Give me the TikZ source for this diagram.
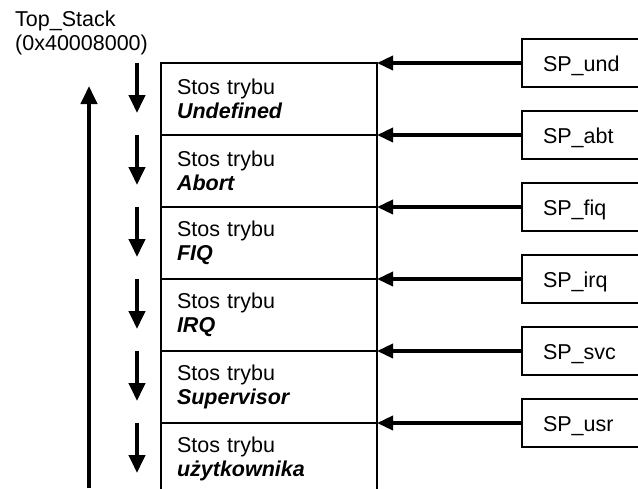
\documentclass[tikz,border=0pt]{standalone}
\usepackage{fontspec}
\setmainfont{Liberation Sans}
\usetikzlibrary{positioning,arrows.meta}

\begin{document}
\begin{tikzpicture}[
  x=1pt, y=-1pt,
  font=\fontsize{21.5}{24}\selectfont,
  rowstyle/.style={
        draw,
        rectangle,
        line width=2pt,
        outer sep=0pt,
        minimum width=216pt,
        minimum height=72pt,
        text width=184pt,
        inner xsep=16pt,
        inner ysep=0pt,
        align=left
  },
  spstyle/.style={
        draw,
        rectangle,
        line width=2pt,
        anchor=west,
        minimum height=48pt,
        text width=110pt,
        inner xsep=21pt,
        inner ysep=0pt,
        align=left,
        text height=16pt,
        text depth=0pt
  },
  pointer/.style={line width=3.5pt, -{Triangle[length=16pt, width=14pt]}},
  fall/.style={line width=4pt, -{Triangle[length=18pt, width=16pt]}}
]

    \useasboundingbox (0,0) rectangle (638,488);

    \node[align=left, anchor=north west, inner sep=0pt] (Top) at (15,11) {Top\_Stack\\(0x40008000)};

    \node[rowstyle] (R_1) at (269,99) {Stos trybu\\\textbf{\textit{Undefined}}};
    \node[rowstyle, below=0pt of R_1] (R_2) {Stos trybu\\\textbf{\textit{Abort}}};
    \node[rowstyle, below=0pt of R_2] (R_3) {Stos trybu\\\textbf{\textit{FIQ}}};
    \node[rowstyle, below=0pt of R_3] (R_4) {Stos trybu\\\textbf{\textit{IRQ}}};
    \node[rowstyle, below=0pt of R_4] (R_5) {Stos trybu\\\textbf{\textit{Supervisor}}};
    \node[rowstyle, below=0pt of R_5] (R_6) {Stos trybu\\\textbf{\textit{użytkownika}}};

    \node[spstyle] (SP_1) at ([xshift=144pt]R_1.north east) {SP\_und};
    \node[spstyle] (SP_2) at ([xshift=144pt]R_2.north east) {SP\_abt};
    \node[spstyle] (SP_3) at ([xshift=144pt]R_3.north east) {SP\_fiq};
    \node[spstyle] (SP_4) at ([xshift=144pt]R_4.north east) {SP\_irq};
    \node[spstyle] (SP_5) at ([xshift=144pt]R_5.north east) {SP\_svc};
    \node[spstyle] (SP_6) at ([xshift=144pt]R_6.north east) {SP\_usr};

    \draw[pointer] (SP_1.west) -- (R_1.north east);
    \draw[pointer] (SP_2.west) -- (R_2.north east);
    \draw[pointer] (SP_3.west) -- (R_3.north east);
    \draw[pointer] (SP_4.west) -- (R_4.north east);
    \draw[pointer] (SP_5.west) -- (R_5.north east);
    \draw[pointer] (SP_6.west) -- (R_6.north east);

    \draw[fall] ([xshift=-24pt]R_1.north west) -- ++(0,50);
    \draw[fall] ([xshift=-24pt]R_2.north west) -- ++(0,50);
    \draw[fall] ([xshift=-24pt]R_3.north west) -- ++(0,50);
    \draw[fall] ([xshift=-24pt]R_4.north west) -- ++(0,50);
    \draw[fall] ([xshift=-24pt]R_5.north west) -- ++(0,50);
    \draw[fall] ([xshift=-24pt]R_6.north west) -- ++(0,50);

    \coordinate (Base) at (89,488);
    \coordinate (Peak) at (89,86);
    \draw[fall] (Base) -- (Peak);
\end{tikzpicture}
\end{document}
